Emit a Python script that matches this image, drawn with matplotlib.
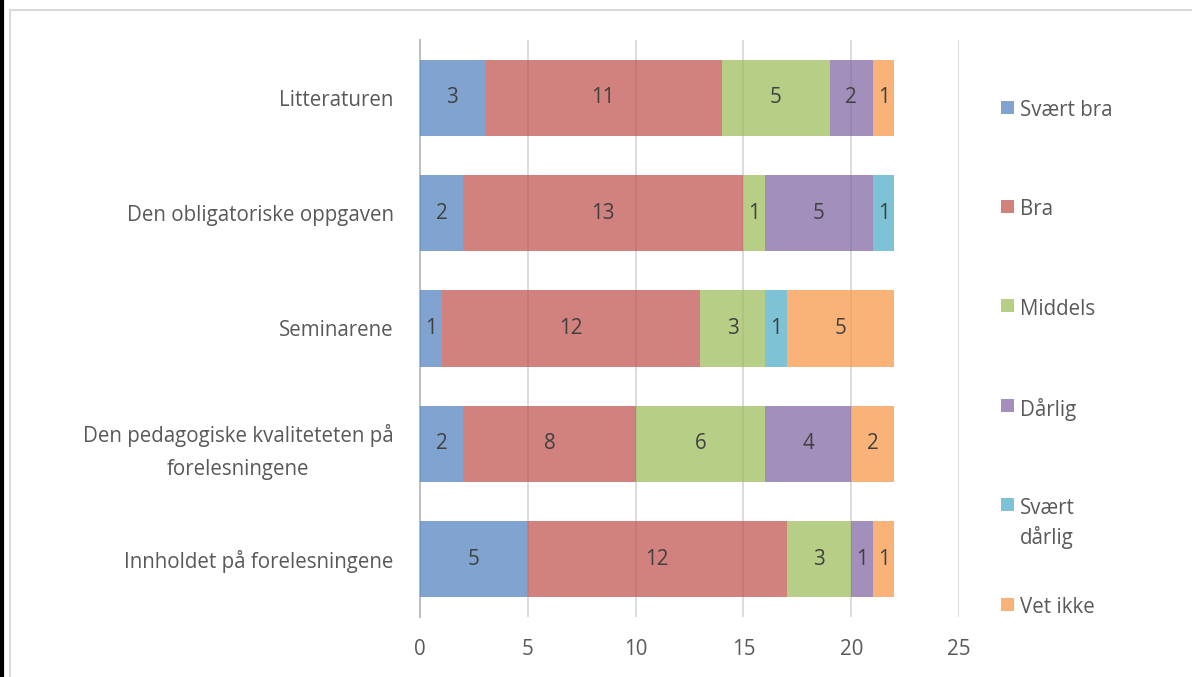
import matplotlib.pyplot as plt
import numpy as np
from matplotlib.lines import Line2D
from matplotlib.patches import Rectangle

plt.rcParams['font.family'] = ['Open Sans', 'DejaVu Sans']

# ===== DATA =====
categories = [
    "Innholdet på forelesningene",
    "Den pedagogiske kvaliteteten på\nforelesningene",
    "Seminarene",
    "Den obligatoriske oppgaven",
    "Litteraturen",
]
series = ["Svært bra", "Bra", "Middels", "Dårlig", "Svært dårlig", "Vet ikke"]
legend_labels = ["Svært bra", "Bra", "Middels", "Dårlig", "Svært\ndårlig", "Vet ikke"]
svaert_bra = [5, 2, 1, 2, 3]
bra = [12, 8, 12, 13, 11]
middels = [3, 6, 3, 1, 5]
daarlig = [1, 4, 0, 5, 2]
svaert_daarlig = [0, 0, 1, 1, 0]
vet_ikke = [1, 2, 5, 0, 1]
values = [svaert_bra, bra, middels, daarlig, svaert_daarlig, vet_ikke]
colors = ["#4F81BD", "#C0504D", "#9BBB59", "#8064A2", "#4BACC6", "#F79646"]
xticks = [0, 5, 10, 15, 20, 25]

W, H = 1192, 677
FS = 14.8
fig = plt.figure(figsize=(W / 100, H / 100), dpi=100)
ax = fig.add_axes([420 / W, 1 - 617 / H, (959 - 420) / W, (617 - 40) / H])

txt = "#595959"
y = np.arange(len(categories))
left = np.zeros(len(categories))
for name, vals, c in zip(series, values, colors):
    vals = np.array(vals, dtype=float)
    ax.barh(y, vals, left=left, height=0.66, color=c, alpha=0.72, zorder=2, label=name)
    for yi, l, v in zip(y, left, vals):
        if v > 0:
            ax.text(l + v / 2, yi, f"{int(v)}", ha='center', va='center',
                    fontsize=FS, color="#404040", zorder=3)
    left += vals

ax.set_xlim(0, 25)
ax.set_ylim(-0.5, len(categories) - 0.5)
ax.set_xticks(xticks)
ax.set_xticklabels([str(t) for t in xticks], fontsize=FS, color=txt)
ax.set_yticks(y)
ax.set_yticklabels(categories, fontsize=FS, color=txt, multialignment='center',
                   linespacing=1.7)
ax.tick_params(axis='both', length=0)
ax.tick_params(axis='x', pad=16)
ax.tick_params(axis='y', pad=19)
ax.grid(axis='x', color="#D9D9D9", lw=1.3, zorder=0)
ax.set_axisbelow(True)
for s in ['top', 'right', 'bottom']:
    ax.spines[s].set_visible(False)
ax.spines['left'].set_color("#BFBFBF")
ax.spines['left'].set_linewidth(1.5)
ax.spines['left'].set_zorder(1)

# legend, placed by hand to match the tall spacing
for i, (lab, c) in enumerate(zip(legend_labels, colors)):
    yc = 107 + i * 99.4
    fig.add_artist(Rectangle((1001 / W, 1 - (yc + 6.5) / H), 13 / W, 13 / H,
                             transform=fig.transFigure, color=c, alpha=0.72, lw=0))
    fig.text(1020 / W, 1 - (yc - 7) / H, lab, ha='left', va='top',
             fontsize=FS, color=txt, linespacing=1.42)

# chart frame
frame = "#D9D9D9"
fig.add_artist(Line2D([10 / W, 1], [1 - 10 / H, 1 - 10 / H], transform=fig.transFigure, color=frame, lw=1.5))
fig.add_artist(Line2D([10 / W, 10 / W], [0, 1 - 10 / H], transform=fig.transFigure, color=frame, lw=1.5))
fig.add_artist(Line2D([1.5 / W, 1.5 / W], [0, 1], transform=fig.transFigure, color="black", lw=3))

plt.savefig('out.png', dpi=100)
